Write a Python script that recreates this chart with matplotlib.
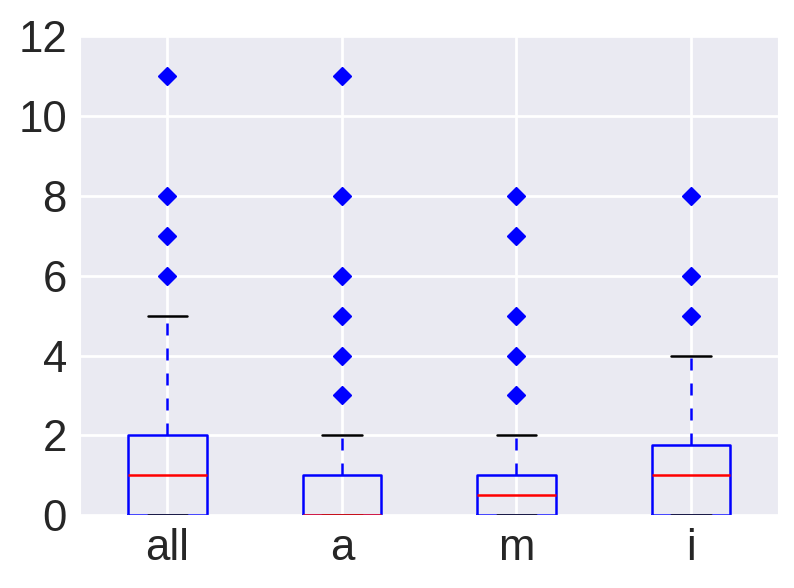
import matplotlib
matplotlib.use("Agg")
import matplotlib.pyplot as plt
import seaborn as sns

# box stats
labels = ["all", "a", "m", "i"]
q1 = [0, 0, 0, 0]
med = [1, 0, 0.5, 1]
q3 = [2, 1, 1, 1.75]
whislo = [0, 0, 0, 0]
whishi = [5, 2, 2, 4]
fliers = [[6, 7, 8, 11],
          [3, 4, 5, 6, 8, 11],
          [3, 4, 5, 7, 8],
          [5, 6, 8]]
yticks = [0, 2, 4, 6, 8, 10, 12]

sns.set_style("darkgrid")
plt.rcParams["font.family"] = ["Liberation Sans", "DejaVu Sans"]

stats = [dict(label=l, q1=a, med=m, q3=b, whislo=lo, whishi=hi, fliers=f)
         for l, a, m, b, lo, hi, f in zip(labels, q1, med, q3, whislo, whishi, fliers)]

fig, ax = plt.subplots(figsize=(7.94, 5.88), dpi=100)
fig.subplots_adjust(left=0.101, right=0.98, top=0.938, bottom=0.124)

ax.bxp(stats, widths=0.45, showfliers=True,
       boxprops=dict(color="blue", lw=1.8),
       medianprops=dict(color="red", lw=1.8),
       whiskerprops=dict(color="blue", lw=1.8, ls=(0, (4.8, 5.2))),
       capprops=dict(color="black", lw=1.8),
       flierprops=dict(marker="D", markerfacecolor="blue", markeredgecolor="blue",
                       markersize=9.5, linestyle="none"))

ax.set_ylim(0, 12)
ax.set_yticks(yticks)
ax.set_xlim(0.5, 4.5)
ax.tick_params(labelsize=31.5, pad=6)
ax.grid(True, color="white", lw=2)

plt.savefig("out.png", dpi=100)
